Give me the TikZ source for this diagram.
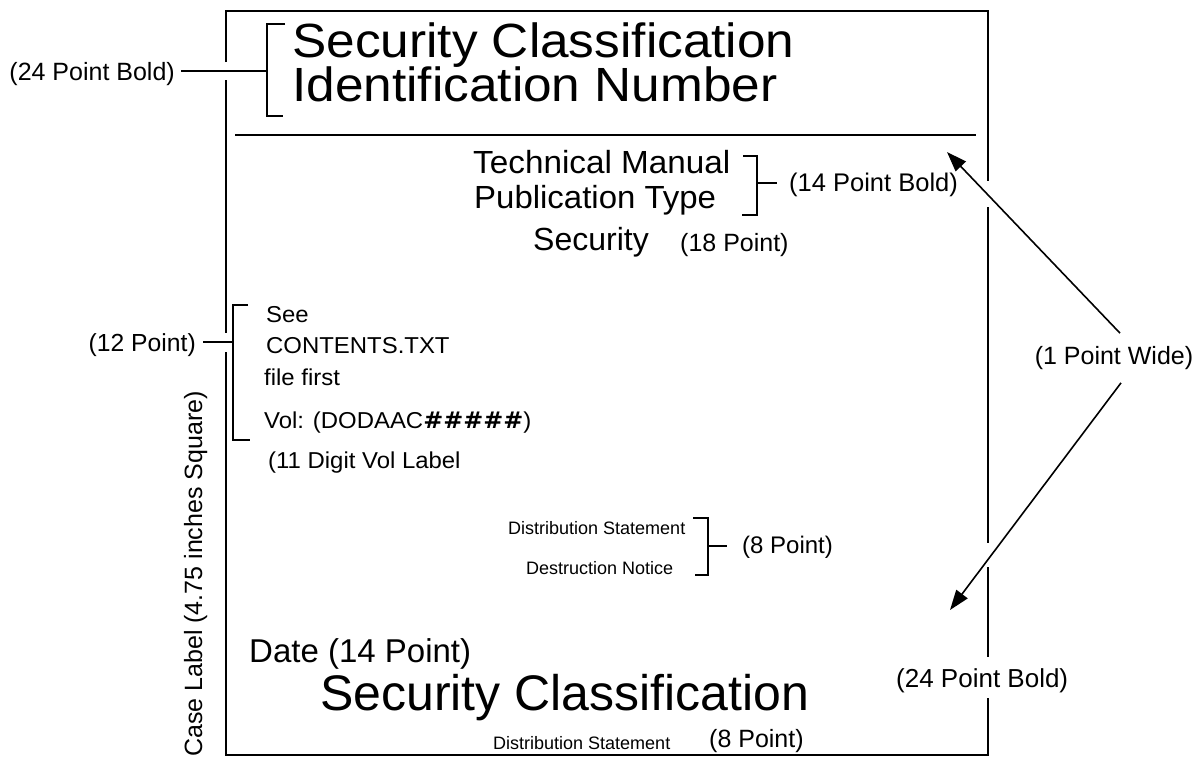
\documentclass[tikz,border=0pt]{standalone}
\usepackage{fontspec}
\setmainfont{Liberation Sans}
\newfontfamily\hashfont{DejaVu Sans}
\usetikzlibrary{arrows.meta}
\newcommand\fsz[1]{\fontsize{#1}{#1}\selectfont}
\newcommand\wide[2]{\scalebox{#1}[1]{#2}}

\begin{document}
\begin{tikzpicture}[x=1pt,y=-1pt,
  rule/.style={line width=1.6pt},
  txt/.style={inner sep=0pt, anchor=base west},
  ptr/.style={line width=1.6pt, -{Triangle[length=20pt,width=14pt]}}]
\useasboundingbox (0,0) rectangle (1193,756);

% label outline (gaps where leaders and pointers pass)
\draw[rule] (226,62) -- (226,11) -- (988,11) -- (988,181);
\draw[rule] (226,80) -- (226,333);
\draw[rule] (226,352) -- (226,755) -- (988,755) -- (988,698);
\draw[rule] (988,207) -- (988,543);
\draw[rule] (988,567) -- (988,657);
\draw[rule] (235,135) -- (976,135);

% title block
\node[txt] (t1) at (292,57) {\fsz{48}\wide{1.07}{Security Classification}};
\node[txt] (t2) at (292,101) {\fsz{48}\wide{1.07}{Identification Number}};
\draw[rule] (285,24) -- (267,24) -- (267,116) -- (283,116);
\coordinate (b24) at (267,71);
\node[inner sep=0pt, anchor=base east] (l24) at (175,80) {\fsz{25}(24 Point Bold)};
\draw[rule] (l24.east |- b24) ++(6,0) -- (b24);

% publication type
\node[txt] (tm) at (473,173) {\fsz{32}\wide{1.04}{Technical Manual}};
\node[txt] (pt) at (474,208) {\fsz{32}\wide{1.03}{Publication Type}};
\draw[rule] (743,156) -- (757,156) -- (757,215) -- (742,215);
\coordinate (b14) at (757,183);
\node[txt] (l14) at (789,191) {\fsz{25.5}(14 Point Bold)};
\draw[rule] (b14) -- ([xshift=-12pt]l14.west |- b14);

% security line
\node[txt] (sec) at (533,250) {\fsz{32}Security};
\node[txt] (l18) at (680,251) {\fsz{25}(18 Point)};

% volume block
\node[txt] (see) at (266,322) {\fsz{23}\wide{1.04}{See}};
\node[txt] (cnt) at (266,353) {\fsz{23}\wide{1.04}{CONTENTS.TXT}};
\node[txt] (ff) at (264,385) {\fsz{23}\wide{1.04}{file first}};
\node[txt] (vol) at (264,428) {\fsz{23}\wide{1.04}{Vol: (DODAAC{\hashfont\bfseries\#\#\#\#\#})}};
\node[txt] (dig) at (268,468) {\fsz{23}\wide{1.04}{(11 Digit Vol Label}};
\draw[rule] (248,305) -- (233,305) -- (233,440) -- (250,440);
\coordinate (b12) at (233,342);
\node[inner sep=0pt, anchor=base east] (l12) at (196,351) {\fsz{24.7}(12 Point)};
\draw[rule] (l12.east |- b12) ++(7,0) -- (b12);

% notices
\node[txt] (ds1) at (508,534) {\fsz{18}Distribution Statement};
\node[txt] (dn) at (526,574) {\fsz{18}Destruction Notice};
\draw[rule] (693,518) -- (708,518) -- (708,575) -- (695,575);
\coordinate (b8) at (708,546);
\node[txt] (l8a) at (742,553) {\fsz{24}(8 Point)};
\draw[rule] (b8) -- ([xshift=-15pt]l8a.west |- b8);

% bottom block
\node[txt] (date) at (249,662) {\fsz{33}Date (14 Point)};
\node[txt] (sc) at (320,710) {\fsz{50}Security Classification};
\node[txt] (ds2) at (493,749) {\fsz{18}Distribution Statement};
\node[txt] (l8b) at (709,747) {\fsz{25}(8 Point)};
\node[txt] (l24b) at (896,687) {\fsz{26}(24 Point Bold)};

% side caption
\node[inner sep=0pt, anchor=base west, rotate=90] (case) at (202,757)
  {\fsz{25}Case Label (4.75 inches Square)};

% line width pointers
\node[inner xsep=0pt, inner ysep=13pt] (pw) at (1114,358) {\fsz{25}(1 Point Wide)};
\coordinate (tipU) at (947,152);
\coordinate (tipL) at (950,610);
\draw[ptr] ([xshift=6pt]pw.north) -- (tipU);
\draw[ptr] ([xshift=7pt]pw.south) -- (tipL);
\end{tikzpicture}
\end{document}
